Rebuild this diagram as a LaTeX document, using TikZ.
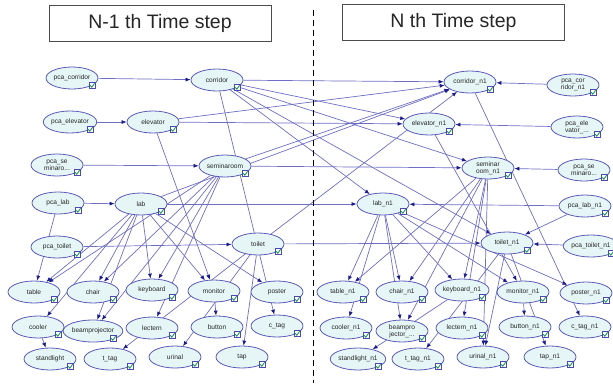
\documentclass[tikz,border=0pt]{standalone}
\usepackage{fontspec}
\setmainfont{Liberation Sans}
\usetikzlibrary{shapes.geometric,arrows.meta,calc,backgrounds}
\definecolor{edgec}{HTML}{6E6EC4}
\definecolor{tipc}{HTML}{1A1A8A}
\definecolor{nfill}{HTML}{E6F6F6}
\definecolor{nborder}{HTML}{5C5CB8}
\definecolor{chkb}{HTML}{4A4AB0}
\definecolor{chkg}{HTML}{1E9E5A}
\tikzset{
  bn/.style={ellipse, draw=nborder, fill=nfill, line width=0.8pt, minimum width=52pt, minimum height=22pt, inner sep=0pt, align=center, font=\fontsize{6.6}{7.3}\selectfont, text=black!85},
  dep/.style={draw=edgec, line width=0.7pt, -{Latex[length=5pt,width=4pt,color=tipc]}},
  ttl/.style={draw=black!70, line width=0.8pt, minimum width=222pt, minimum height=36pt, inner sep=0pt, font=\fontsize{19.5}{22}\selectfont, text=black!85},
  chkmark/.pic={\draw[chkb,fill=white,line width=0.5pt] (0,0) rectangle (6.5,6.5);
                \draw[chkg,line width=0.9pt] (1.3,3.4) -- (2.8,5.2) -- (5.6,1.3);}
}
\begin{document}
\begin{tikzpicture}[x=1pt,y=-1pt]
\useasboundingbox (0,0) rectangle (613,383);
% titles
\node[ttl] (t1) at (160,23) {N-1 th Time step};
\node[ttl] (t2) at (453.5,22.5) {N th Time step};
% separator
\coordinate (dtop) at (313,10);
\coordinate (dbot) at (313,383);
\draw[black, line width=0.7pt, dash pattern=on 6pt off 4pt] (dtop) -- (dbot);
% left slice
\node[bn] (pcacor) at (72,78) {pca\_corridor};
\node[bn] (cor) at (217,80) {corridor};
\node[bn] (pcaele) at (70,122) {pca\_elevator};
\node[bn] (ele) at (153,122) {elevator};
\node[bn] (pcasem) at (57,165) {pca\_se\\minaro...};
\node[bn] (sem) at (225,166) {seminaroom};
\node[bn] (pcalab) at (58,203) {pca\_lab};
\node[bn] (lab) at (141,204) {lab};
\node[bn] (pcatoi) at (57,247) {pca\_toilet};
\node[bn] (toi) at (258,244) {toilet};
\node[bn] (tab) at (34,292) {table};
\node[bn] (cha) at (93,292) {chair};
\node[bn] (key) at (152,290) {keyboard};
\node[bn] (mon) at (214,291) {monitor};
\node[bn] (pos) at (277,292) {poster};
\node[bn] (coo) at (38,327) {cooler};
\node[bn] (bea) at (93,331) {beamprojector};
\node[bn] (lec) at (152,328) {lectern};
\node[bn] (but) at (217,327) {button};
\node[bn] (ctag) at (277,326) {c\_tag};
\node[bn] (sta) at (50,359) {standlight};
\node[bn] (ttag) at (110,359) {t\_tag};
\node[bn] (uri) at (175,357) {urinal};
\node[bn] (tap) at (242,357) {tap};
% right slice
\node[bn] (corN) at (470,82) {corridor\_n1};
\node[bn] (pcacorN) at (573,85) {pca\_cor\\ridor\_n1};
\node[bn] (eleN) at (429,124) {elevator\_n1};
\node[bn] (pcaeleN) at (577,127) {pca\_ele\\vator\_...};
\node[bn] (semN) at (488,168) {seminar\\oom\_n1};
\node[bn] (pcasemN) at (584,170) {pca\_se\\minaro...};
\node[bn] (labN) at (383,204) {lab\_n1};
\node[bn] (pcalabN) at (585,206) {pca\_lab\_n1};
\node[bn] (toiN) at (507,243) {toilet\_n1};
\node[bn] (pcatoiN) at (591,246) {pca\_toilet\_n1};
\node[bn] (tabN) at (343,292) {table\_n1};
\node[bn] (chaN) at (402,292) {chair\_n1};
\node[bn] (keyN) at (462,290) {keyboard\_n1};
\node[bn] (monN) at (523,292) {monitor\_n1};
\node[bn] (posN) at (586,293) {poster\_n1};
\node[bn] (cooN) at (346,328) {cooler\_n1};
\node[bn] (beaN) at (402,331) {beampro\\jector\_...};
\node[bn] (lecN) at (462,328) {lectern\_n1};
\node[bn] (butN) at (525,327) {button\_n1};
\node[bn] (ctagN) at (585,327) {c\_tag\_n1};
\node[bn] (staN) at (358,359) {standlight\_n1};
\node[bn] (ttagN) at (418,359) {t\_tag\_n1};
\node[bn] (uriN) at (483,357) {urinal\_n1};
\node[bn] (tapN) at (550,357) {tap\_n1};
% check icons
\foreach \n in {pcacor,cor,pcaele,ele,pcasem,sem,pcalab,lab,pcatoi,toi,tab,cha,key,mon,pos,coo,bea,lec,but,ctag,sta,ttag,uri,tap,
  corN,pcacorN,eleN,pcaeleN,semN,pcasemN,labN,pcalabN,toiN,pcatoiN,tabN,chaN,keyN,monN,posN,cooN,beaN,lecN,butN,ctagN,staN,ttagN,uriN,tapN}
  \pic at ($(\n.center)+(17,4)$) {chkmark};
% edges
\begin{scope}[on background layer]
\foreach \a/\b in {pcacor/cor, pcaele/ele, pcasem/sem, pcalab/lab, pcatoi/toi, pcalab/tab,
  cor/ctag, ele/mon,
  lab/tab, lab/cha, lab/bea, lab/key, lab/mon, lab/pos, lab/coo,
  sem/tab, sem/cha, sem/key, sem/bea, sem/lec,
  toi/uri, toi/tap, toi/ttag, mon/but, coo/sta,
  cor/corN, cor/eleN, cor/semN, cor/labN, cor/toiN,
  ele/eleN, ele/corN, sem/semN, sem/corN, lab/labN, lab/corN, toi/toiN, toi/corN,
  pcacorN/corN, pcaeleN/eleN, pcasemN/semN, pcalabN/labN, pcatoiN/toiN, pcalabN/toiN,
  corN/ctagN, eleN/monN,
  labN/tabN, labN/chaN, labN/beaN, labN/keyN, labN/monN, labN/posN, labN/cooN,
  semN/tabN, semN/chaN, semN/keyN, semN/beaN, semN/lecN, semN/uriN,
  toiN/uriN, toiN/tapN, toiN/ttagN, monN/butN, keyN/staN}
  \draw[dep] (\a) -- (\b);
\end{scope}
\end{tikzpicture}
\end{document}
